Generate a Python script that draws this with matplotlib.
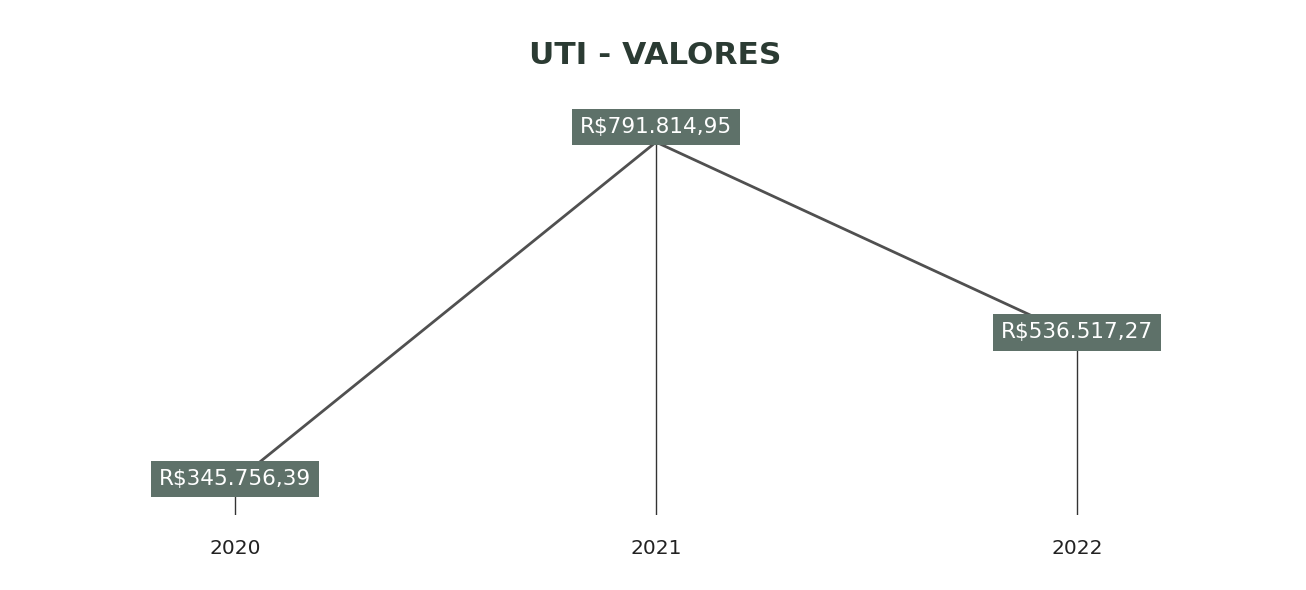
import matplotlib.pyplot as plt

anos = ["2020", "2021", "2022"]
valores = [345756.39, 791814.95, 536517.27]
rotulos = ["R$345.756,39", "R$791.814,95", "R$536.517,27"]

# deslocamento vertical de cada rotulo (pontos)
desloc = [2, 11, 3]


def main():
    plt.rcParams["font.family"] = ["DejaVu Sans"]

    fig = plt.figure(figsize=(13.06, 5.9), dpi=100)
    ax = fig.add_axes([0, 75 / 590, 1, 515 / 590])

    x = list(range(len(anos)))
    base = 302449

    ax.plot(x, valores, color="#505050", lw=2, zorder=2)
    ax.vlines(x, base, valores, color="#333333", lw=1, zorder=1)

    for i, v in enumerate(valores):
        ax.annotate(rotulos[i], (x[i], v), xytext=(0, desloc[i]),
                    textcoords="offset points", ha="center", va="center",
                    color="white", fontsize=15.5,
                    bbox=dict(boxstyle="square,pad=0.38", fc="#5e7169",
                              ec="none"), zorder=3)

    ax.set_xlim(-235 / 421, 1071 / 421)
    ax.set_ylim(base, 978302)
    ax.set_xticks(x)
    ax.set_xticklabels(anos, fontsize=14.5, color="#222222")
    ax.tick_params(axis="x", length=0, pad=17)
    ax.set_yticks([])
    for s in ax.spines.values():
        s.set_visible(False)

    fig.text(0.502, 1 - 56 / 590, "UTI - VALORES", ha="center", va="center",
             fontsize=22.5, fontweight="bold", color="#2b3b33")

    fig.savefig("out.png", dpi=100, facecolor="white")


if __name__ == "__main__":
    main()
